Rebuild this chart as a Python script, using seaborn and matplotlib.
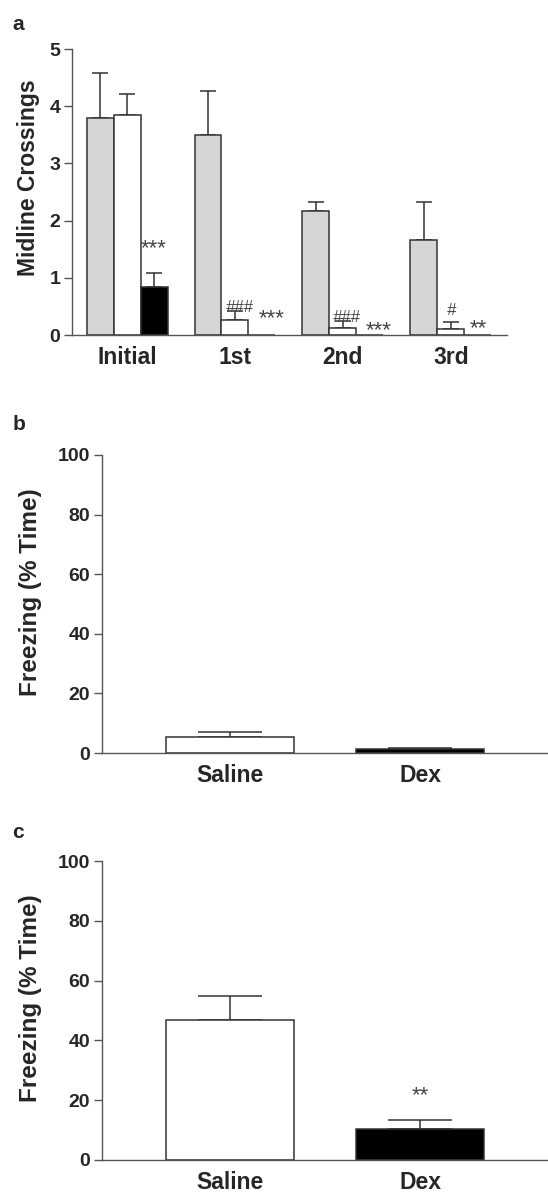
import numpy as np
import pandas as pd
import matplotlib
matplotlib.use("Agg")
import matplotlib.pyplot as plt
import seaborn as sns

# ---------------- data ----------------
# Panel a
sessions = ["Initial", "1st", "2nd", "3rd"]
conditions = ["Gray", "White", "Black"]
gray_means = [3.80, 3.50, 2.17, 1.66]
gray_sem = [0.78, 0.77, 0.16, 0.67]
white_means = [3.84, 0.26, 0.12, 0.11]
white_sem = [0.37, 0.16, 0.13, 0.12]
black_means = [0.84, 0.0, 0.0, 0.0]
black_sem = [0.25, 0.0, 0.0, 0.0]
a_ylabel = "Midline Crossings"
a_yticks = [0, 1, 2, 3, 4, 5]
# significance marks
a_marks_session = [0, 1, 1, 2, 2, 3, 3]
a_marks_cond = [2, 1, 2, 1, 2, 1, 2]
a_marks_text = ["***", "###", "***", "###", "***", "#", "**"]
a_marks_y = [1.60, 0.48, 0.37, 0.30, 0.17, 0.42, 0.19]

# Panel b
treat = ["Saline", "Dex"]
b_means = [5.4, 1.2]
b_sem = [1.6, 0.5]

# Panel c
c_means = [46.9, 10.3]
c_sem = [8.0, 3.1]
c_marks_text = ["", "**"]
c_marks_y = [None, 23.3]

fz_ylabel = "Freezing (% Time)"
fz_yticks = [0, 20, 40, 60, 80, 100]

# ---------------- style ----------------
sns.set_style("ticks")
plt.rcParams["font.family"] = ["Liberation Sans", "DejaVu Sans"]
plt.rcParams["font.weight"] = "bold"

EDGE = "#333333"
SPINE = "#555555"
MARK = "#444444"
fill_a = {"Gray": "#d6d6d6", "White": "#ffffff", "Black": "#000000"}
fill_b = {"Saline": "#ffffff", "Dex": "#000000"}

W, H = 548, 1193
fig = plt.figure(figsize=(W / 100, H / 100), dpi=100)


def px_axes(left, right, top, bottom):
    return fig.add_axes([left / W, (H - bottom) / H, (right - left) / W, (bottom - top) / H])


def style_axes(ax, yticks, ylabel, labelsize, label_xy):
    sns.despine(ax=ax)
    for s in ("left", "bottom"):
        ax.spines[s].set_color(SPINE)
        ax.spines[s].set_linewidth(1.0)
    ax.set_yticks(yticks)
    ax.set_ylim(yticks[0], yticks[-1])
    ax.tick_params(axis="y", length=6, width=1.0, color=SPINE, pad=2.5, labelsize=14)
    ax.tick_params(axis="x", length=0, pad=8, labelsize=16.5)
    for lab in ax.get_xticklabels() + ax.get_yticklabels():
        lab.set_fontweight("bold")
    ax.set_xlabel("")
    ax.set_ylabel(ylabel, fontsize=labelsize, fontweight="bold")
    ax.yaxis.set_label_coords(*label_xy)


def add_errorbars(ax, container, means, sems, capsize):
    xs = np.array([p.get_x() + p.get_width() / 2 for p in container])
    m = np.array(means)
    e = np.array(sems)
    keep = e > 0
    ax.errorbar(xs[keep], m[keep], yerr=[np.zeros(keep.sum()), e[keep]], fmt="none",
                ecolor=EDGE, elinewidth=1.1, capsize=capsize, capthick=1.1, zorder=1)
    return xs


def mark(ax, x, y, txt):
    # asterisks sit high in the glyph box, hashes sit on the baseline
    if "*" in txt:
        ax.annotate(txt, xy=(x, y), xytext=(0, -7.5), textcoords="offset points",
                    ha="center", va="baseline", fontsize=16, fontweight="normal",
                    color=MARK, family="Liberation Sans")
    else:
        ax.annotate(txt, xy=(x, y), xytext=(0, 0), textcoords="offset points",
                    ha="center", va="center", fontsize=12, fontweight="normal",
                    color=MARK, family="Liberation Sans", style="italic")


# ---------------- panel a ----------------
ax_a = px_axes(72, 507, 49, 335)
df_a = pd.DataFrame({
    "session": sessions * 3,
    "cond": np.repeat(conditions, len(sessions)).tolist(),
    "value": gray_means + white_means + black_means,
})
sns.barplot(data=df_a, x="session", y="value", hue="cond", order=sessions, hue_order=conditions,
            palette=fill_a, edgecolor=EDGE, linewidth=1.1, width=0.75, errorbar=None,
            legend=False, ax=ax_a, zorder=2)
all_means = [gray_means, white_means, black_means]
all_sems = [gray_sem, white_sem, black_sem]
bar_conts = list(ax_a.containers)
bar_x = []
for ci, cont in enumerate(bar_conts):
    bar_x.append(add_errorbars(ax_a, cont, all_means[ci], all_sems[ci], capsize=5.5))
ax_a.set_xlim(-0.51, 3.52)
style_axes(ax_a, a_yticks, a_ylabel, labelsize=16.5, label_xy=(-0.073, 0.55))
a_nudge = [0.0, 0.045, 0.09, 0.03, 0.08, 0.0, 0.0]
for si, ci, txt, y, dx in zip(a_marks_session, a_marks_cond, a_marks_text, a_marks_y, a_nudge):
    mark(ax_a, bar_x[ci][si] + dx, y, txt)

fig.text(12 / W, 1 - 25 / H, "a", fontsize=15, fontweight="bold", va="center", ha="left")

# ---------------- panel b ----------------
ax_b = px_axes(102, 548, 455, 753)
sns.barplot(x=treat, y=b_means, hue=treat, palette=fill_b, edgecolor=EDGE, linewidth=1.1,
            width=0.67, errorbar=None, legend=False, ax=ax_b, zorder=2)
for i, cont in enumerate(list(ax_b.containers)):
    add_errorbars(ax_b, cont, [b_means[i]], [b_sem[i]], capsize=23)
ax_b.set_xlim(-0.67, 1.67)
style_axes(ax_b, fz_yticks, fz_ylabel, labelsize=17.5, label_xy=(-0.135, 0.54))
fig.text(13 / W, 1 - 424 / H, "b", fontsize=15, fontweight="bold", va="center", ha="left")

# ---------------- panel c ----------------
ax_c = px_axes(102, 548, 861, 1160)
sns.barplot(x=treat, y=c_means, hue=treat, palette=fill_b, edgecolor=EDGE, linewidth=1.1,
            width=0.67, errorbar=None, legend=False, ax=ax_c, zorder=2)
c_x = []
for i, cont in enumerate(list(ax_c.containers)):
    c_x.append(add_errorbars(ax_c, cont, [c_means[i]], [c_sem[i]], capsize=23)[0])
ax_c.set_xlim(-0.67, 1.67)
style_axes(ax_c, fz_yticks, fz_ylabel, labelsize=17.5, label_xy=(-0.135, 0.54))
for x, txt, y in zip(c_x, c_marks_text, c_marks_y):
    if txt:
        mark(ax_c, x, y, txt)
fig.text(12 / W, 1 - 832 / H, "c", fontsize=15, fontweight="bold", va="center", ha="left")

fig.savefig("out.png", dpi=100, facecolor="white")
